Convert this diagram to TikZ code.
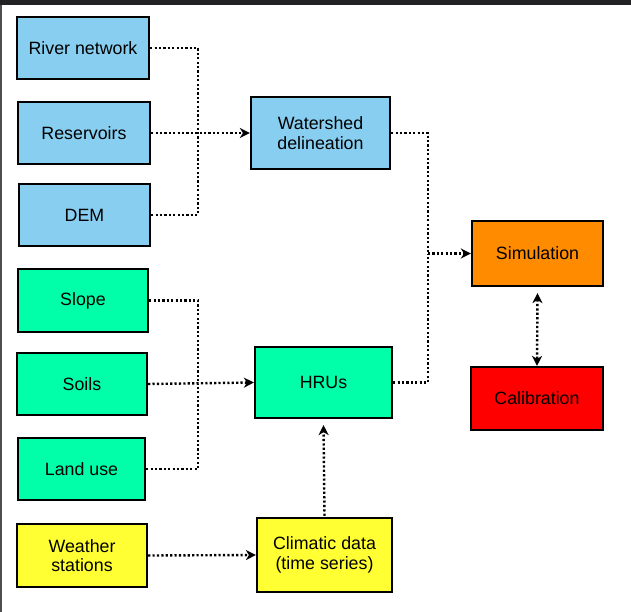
\documentclass[tikz,border=0pt]{standalone}
\usepackage{fontspec}
\setmainfont{Liberation Sans}
\usetikzlibrary{arrows.meta}
\definecolor{cblue}{RGB}{135,206,240}
\definecolor{cgreen}{RGB}{0,255,168}
\definecolor{cyellow}{RGB}{255,255,51}
\definecolor{corange}{RGB}{255,140,0}
\definecolor{cred}{RGB}{255,0,0}
\definecolor{cframe}{RGB}{34,34,36}
\tikzset{
  box/.style={draw=black, line width=2.2pt, rectangle, align=center, inner sep=0pt,
    font=\fontsize{17.8}{19.5}\selectfont},
  dl/.style={draw=black, line width=2.4pt, dash pattern=on 2.2pt off 2.2pt},
  tip/.style={-{Stealth[length=10pt,width=10pt,inset=3pt]}},
  tips/.style={{Stealth[length=10pt,width=10pt,inset=3pt]}-{Stealth[length=10pt,width=10pt,inset=3pt]}}
}
\begin{document}
\begin{tikzpicture}[x=1pt,y=-1pt]
\useasboundingbox (0,0) rectangle (631,612);
\fill[white] (0,0) rectangle (631,612);
\fill[cframe] (0,0) rectangle (631,5);
\fill[cframe!80] (0,5) rectangle (1.5,612);
% left column
\node[box, fill=cblue, minimum width=132pt, minimum height=62pt] (river) at (83,48) {River network};
\node[box, fill=cblue, minimum width=132pt, minimum height=62pt] (res) at (84,133) {Reservoirs};
\node[box, fill=cblue, minimum width=131pt, minimum height=62pt] (dem) at (84.5,215) {DEM};
\node[box, fill=cgreen, minimum width=130pt, minimum height=63pt] (slope) at (83,300.5) {Slope};
\node[box, fill=cgreen, minimum width=130pt, minimum height=62pt] (soils) at (82,384) {Soils};
\node[box, fill=cgreen, minimum width=127pt, minimum height=62pt] (land) at (81.5,469) {Land use};
\node[box, fill=cyellow, minimum width=130pt, minimum height=63pt] (weather) at (82,555.5) {Weather\\stations};
% middle column
\node[box, fill=cblue, minimum width=139pt, minimum height=72pt] (wat) at (320.5,133) {Watershed\\delineation};
\node[box, fill=cgreen, minimum width=137pt, minimum height=71pt] (hrus) at (323.5,382.5) {HRUs};
\node[box, fill=cyellow, minimum width=135pt, minimum height=74pt] (clim) at (324.5,555) {Climatic data\\(time series)};
% right column
\node[box, fill=corange, minimum width=131pt, minimum height=65pt] (sim) at (537.5,253.5) {Simulation};
\node[box, fill=cred, minimum width=132pt, minimum height=63pt] (cal) at (537,398.5) {Calibration};
% junctions
\coordinate (j1) at (198,133);
\coordinate (j2) at (198,384);
\coordinate (j3) at (428,253.5);
% connectors
\draw[dl] (river.east) -| (j1);
\draw[dl] (dem.east) -| (j1);
\draw[dl, tip] (res.east) -- (wat.west);
\draw[dl] (slope.east) -| (j2);
\draw[dl] (land.east) -| (j2);
\draw[dl, tip] (soils.east) -- (hrus.west);
\draw[dl, tip] (weather.east) -- (clim.west);
\draw[dl, tip] ([yshift=1pt]clim.north) -- ([yshift=-6pt]hrus.south);
\draw[dl] (wat.east) -| (j3);
\draw[dl] (hrus.east) -| (j3);
\draw[dl, tip] (j3) -- (sim.west);
\draw[dl, tips] ([yshift=-6pt]sim.south) -- (cal.north);
\end{tikzpicture}
\end{document}
